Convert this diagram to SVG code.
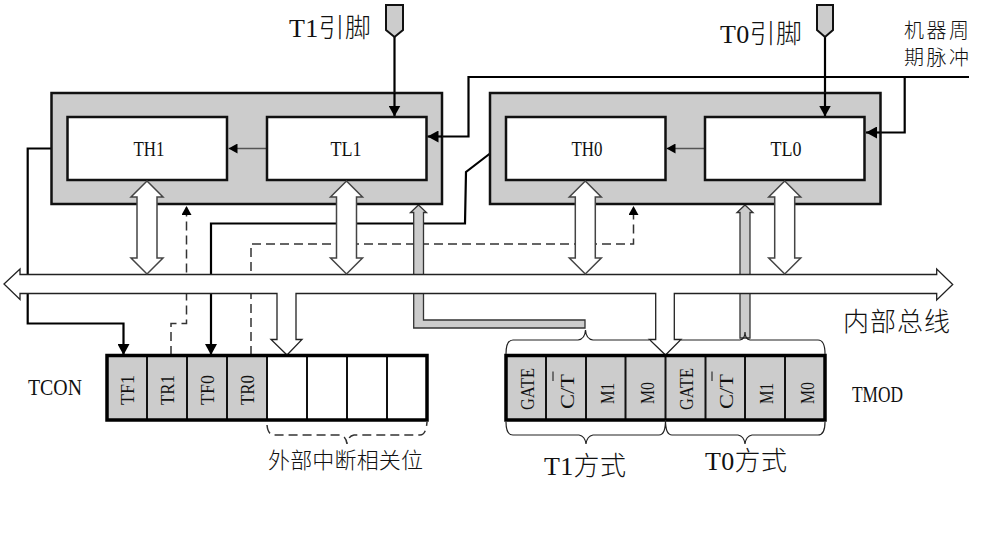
<svg xmlns="http://www.w3.org/2000/svg" width="992" height="560" viewBox="0 0 992 560">
<style>
text{font-family:"Liberation Serif","Noto Sans CJK SC",serif;fill:#111}
.cjk{font-family:"Noto Sans CJK SC","Liberation Serif",serif;font-weight:300}
.outer{fill:#ccc;stroke:#111;stroke-width:2.5}
.inner{fill:#fff;stroke:#111;stroke-width:2.5}
.w{fill:none;stroke:#000;stroke-width:2.2}
.d{fill:none;stroke:#333;stroke-width:1.5;stroke-dasharray:9 5}
.dbl{fill:#fff;stroke:#444;stroke-width:1.5}
.pipe{fill:#ccc;stroke:#333;stroke-width:1.3}
.cell{stroke:#111;stroke-width:2}
.frame{fill:none;stroke:#000;stroke-width:3.5}
.br{fill:none;stroke:#222;stroke-width:1.2}
.pin{fill:#ccc;stroke:#111;stroke-width:2}
</style>
<defs>
<marker id="big" markerUnits="userSpaceOnUse" markerWidth="12" markerHeight="12" refX="11" refY="6" orient="auto"><path d="M0,0L11,6L0,12Z" fill="#000"/></marker>
<marker id="small" markerUnits="userSpaceOnUse" markerWidth="9" markerHeight="10" refX="9" refY="5" orient="auto"><path d="M0,0L9,5L0,10Z" fill="#000"/></marker>
</defs>
<g id="connectors">
<path class="w" d="M394.500,37V116.500" marker-end="url(#big)"/>
<path class="w" d="M825,37V116.500" marker-end="url(#big)"/>
<path class="w" d="M969,77H468.500V136.500H427.500" marker-end="url(#big)"/>
<path class="w" d="M904.700,77V132.500H866" marker-end="url(#big)"/>
<path class="w" d="M51,148.500H27.700V323.500H123.500V355" marker-end="url(#big)"/>
<path class="w" d="M490,153.500L466,172L465,223.500H211V355" marker-end="url(#big)"/>
<path class="d" d="M171,355V323.500H186.500V206" marker-end="url(#small)"/>
<path class="d" d="M251,355V244H633.500V206" marker-end="url(#small)"/>
<path class="pipe" d="M418.500,205L426.500,212.500H423.500V320H585V328H413.700V212.500H410.500Z"/>
<path class="pipe" d="M745,205L753,212.500H750V338H740V212.500H737Z"/>
<path d="M267,120" fill="none"/>
<path stroke="#555" stroke-width="1.5" fill="none" d="M267,148.500H228.500" marker-end="url(#small)"/>
<path stroke="#555" stroke-width="1.5" fill="none" d="M705,148.500H666.500" marker-end="url(#small)"/>
</g>
<g id="timer1">
<rect class="outer" x="51.500" y="93" width="390.500" height="111"/>
</g>
<g id="timer0">
<rect class="outer" x="490" y="93" width="390.500" height="111"/>
</g>
<g id="connectors-top">
<path stroke="#555" stroke-width="1.5" fill="none" d="M267,148.500H228.500" marker-end="url(#small)"/>
<path stroke="#555" stroke-width="1.500" fill="none" d="M705,148.500H666.500" marker-end="url(#small)"/>
<path class="w" d="M394.500,93V116.500" marker-end="url(#big)"/>
<path class="w" d="M825,93V116.500" marker-end="url(#big)"/>
<path class="w" d="M442,136.500H427.500" marker-end="url(#big)"/>
<path class="w" d="M880,132.500H866" marker-end="url(#big)"/>
</g>
<g id="TH1"><rect class="inner" x="67.500" y="117" width="159.500" height="63"/><text x="149" y="155.500" font-size="20" text-anchor="middle" textLength="31" lengthAdjust="spacingAndGlyphs">TH1</text></g>
<g id="TL1"><rect class="inner" x="267" y="117" width="159.500" height="63"/><text x="346" y="155.500" font-size="20" text-anchor="middle" textLength="31" lengthAdjust="spacingAndGlyphs">TL1</text></g>
<g id="TH0"><rect class="inner" x="506" y="117" width="159.500" height="63"/><text x="587" y="155.500" font-size="20" text-anchor="middle" textLength="31" lengthAdjust="spacingAndGlyphs">TH0</text></g>
<g id="TL0"><rect class="inner" x="705" y="117" width="159.500" height="63"/><text x="786" y="155.500" font-size="20" text-anchor="middle" textLength="31" lengthAdjust="spacingAndGlyphs">TL0</text></g>
<g id="bus">
<path fill="#fff" stroke="#222" stroke-width="1.300" d="M4,284L20,269V274.500H936.700V269L952.700,284.500L936.700,300V293.500H674.300V339.500H681L665.500,355L649.300,339.500H655.700V293.500H296V339.500H302L287,355L271,339.500H277V293.500H20V299.500Z"/>
<path id="bus-arrows" class="dbl" d="M147,181L163,197H157V258H163L147,274L131,258H137V197H131Z"/>
<path class="dbl" d="M346.500,181L362.500,197H356.500V258H362.500L346.500,274L330.500,258H336.500V197H330.500Z"/>
<path class="dbl" d="M585.300,181L601.300,197H595.300V258H601.300L585.300,274L569.300,258H575.300V197H569.300Z"/>
<path class="dbl" d="M784.700,181L800.700,197H794.700V258H800.700L784.700,274L768.700,258H774.700V197H768.700Z"/>
</g>
<g id="TCON">
<rect x="107" y="355.500" width="160" height="64.500" fill="#ccc"/>
<rect x="267" y="355.500" width="160" height="64.500" fill="#fff"/>
<path class="cell" d="M147,356V420M187,356V420M227,356V420M267,356V420M307,356V420M347,356V420M387,356V420"/>
<rect class="frame" x="107" y="355.500" width="320" height="64.500"/>
<text x="28" y="395" font-size="24" textLength="54" lengthAdjust="spacingAndGlyphs">TCON</text>
<g font-size="19" text-anchor="middle">
<text transform="translate(134,390) rotate(-90)" textLength="30" lengthAdjust="spacingAndGlyphs">TF1</text>
<text transform="translate(174,390) rotate(-90)" textLength="30" lengthAdjust="spacingAndGlyphs">TR1</text>
<text transform="translate(214,390) rotate(-90)" textLength="30" lengthAdjust="spacingAndGlyphs">TF0</text>
<text transform="translate(254,390) rotate(-90)" textLength="30" lengthAdjust="spacingAndGlyphs">TR0</text>
</g>
<path class="d" stroke-width="1.200" d="M267,425Q268,435 274,435H340Q346,436 347,444Q348,436 354,435H420Q426,435 427,422"/>
<text class="cjk" x="268" y="468" font-size="22" textLength="155">外部中断相关位</text>
</g>
<g id="TMOD">
<rect x="506" y="355.500" width="319" height="64.500" fill="#ccc"/>
<path class="cell" d="M546,356V420M586,356V420M625.500,356V420M665.500,356V420M705.500,356V420M745,356V420M785,356V420"/>
<rect class="frame" x="506" y="355.500" width="319" height="64.500"/>
<text x="852" y="402" font-size="24" textLength="51" lengthAdjust="spacingAndGlyphs">TMOD</text>
<g font-size="19">
<text transform="translate(534,410) rotate(-90)" textLength="42" lengthAdjust="spacingAndGlyphs">GATE</text>
<text transform="translate(574,409) rotate(-90)" textLength="35" lengthAdjust="spacingAndGlyphs">C/T</text>
<text transform="translate(614,404) rotate(-90)" textLength="21" lengthAdjust="spacingAndGlyphs">M1</text>
<text transform="translate(654,404) rotate(-90)" textLength="22" lengthAdjust="spacingAndGlyphs">M0</text>
<text transform="translate(693,410) rotate(-90)" textLength="42" lengthAdjust="spacingAndGlyphs">GATE</text>
<text transform="translate(733,409) rotate(-90)" textLength="35" lengthAdjust="spacingAndGlyphs">C/T</text>
<text transform="translate(773,404) rotate(-90)" textLength="21" lengthAdjust="spacingAndGlyphs">M1</text>
<text transform="translate(814,404) rotate(-90)" textLength="22" lengthAdjust="spacingAndGlyphs">M0</text>
</g>
<path stroke="#111" stroke-width="1" d="M553,371.500V381M712,371.500V381"/>
<path class="br" d="M506,354Q506,340 513,340H578Q585,339 585.500,330Q586,339 593,340H649M681,340H740Q745,339 745,332Q745,339 750,340H818Q825,340 825,354"/>
<path class="br" d="M506,422Q506,435 513,435H579Q585,436 586,444Q587,436 593,435H659Q665.500,435 665.500,420Q665.500,435 672,435H738Q744,436 745,444Q746,436 752,435H818Q825,435 825,422"/>
<text x="544" y="475" font-size="26" textLength="82"><tspan>T1</tspan><tspan class="cjk">方式</tspan></text>
<text x="705" y="470" font-size="26" textLength="82"><tspan>T0</tspan><tspan class="cjk">方式</tspan></text>
</g>
<g id="T1-pin"><path class="pin" d="M386,5H403V30L394.500,37L386,30Z"/><text x="289" y="37" font-size="26" textLength="82"><tspan>T1</tspan><tspan class="cjk">引脚</tspan></text></g>
<g id="T0-pin"><path class="pin" d="M817,5H833V30L825,37L817,30Z"/><text x="720" y="43" font-size="26" textLength="82"><tspan>T0</tspan><tspan class="cjk">引脚</tspan></text></g>
<g id="labels">
<text class="cjk" x="904" y="38" font-size="20" textLength="65">机器周</text>
<text class="cjk" x="904" y="65" font-size="20" textLength="65">期脉冲</text>
<text class="cjk" x="843" y="331" font-size="26" textLength="107">内部总线</text>
</g>
</svg>
